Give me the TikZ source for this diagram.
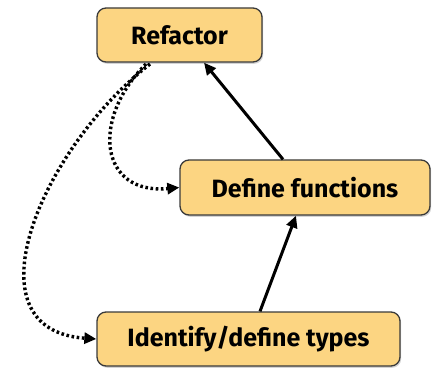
\documentclass[tikz,border=0pt]{standalone}
\usepackage{fontspec}
\setmainfont{Fira Sans}
\usetikzlibrary{arrows.meta,shadows}
\definecolor{boxfill}{HTML}{FCD582}
\definecolor{boxline}{HTML}{3A3A3A}
\begin{document}
\begin{tikzpicture}[x=1pt,y=-1pt,
  stepbox/.style={draw=boxline, line width=1.3pt, fill=boxfill, rounded corners=9pt,
    drop shadow={shadow xshift=1.2pt, shadow yshift=-1.8pt, opacity=0.35},
    font=\fontsize{25}{28}\selectfont\bfseries, inner sep=0pt},
  solidarrow/.style={line width=3pt, -{Triangle[length=12pt,width=11pt]}},
  dotarrow/.style={line width=3.4pt, dash pattern=on 2.6pt off 2.6pt,
    -{Triangle[length=12pt,width=11pt]}}]
\useasboundingbox (0,0) rectangle (432,369);
\node[stepbox, minimum width=165pt, minimum height=54pt] (ref) at (179.5,35) {Refactor};
\node[stepbox, minimum width=250pt, minimum height=55pt] (def) at (305,187.5) {Define functions};
\node[stepbox, minimum width=303pt, minimum height=54pt] (idt) at (248.5,339) {Identify/define types};
\coordinate (r1) at (150,64);
\coordinate (r2) at (146,64);
\draw[solidarrow] (def.north -| 283,0) -- (ref.south -| 204,0);
\draw[solidarrow] (idt.north -| 260,0) -- (def.south -| 296,0);
\draw[dotarrow] (r1) .. controls (40,150) and (-35,330) .. (idt.west);
\draw[dotarrow] (r2) .. controls (90,120) and (100,195) .. (def.west);
\end{tikzpicture}
\end{document}
